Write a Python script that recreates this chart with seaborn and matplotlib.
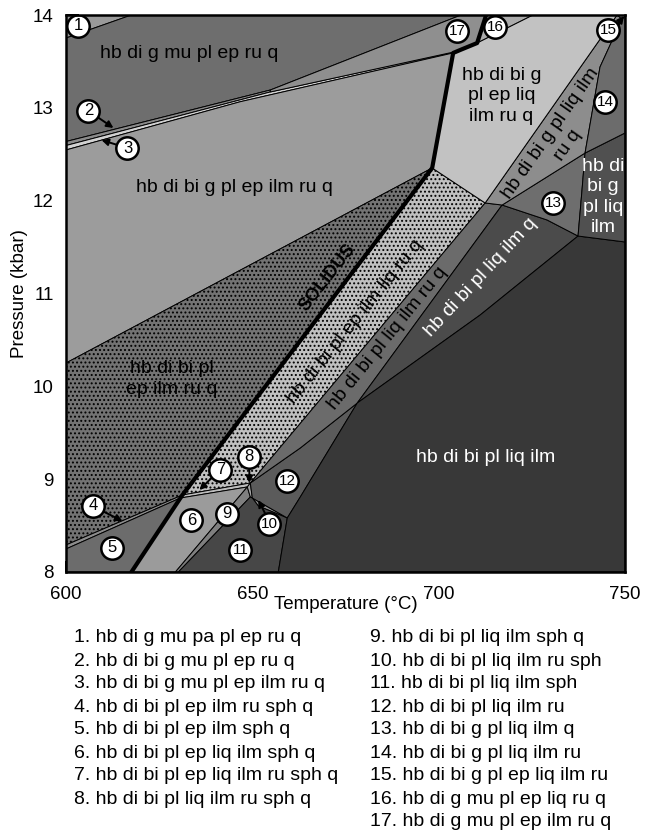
import matplotlib
matplotlib.use("Agg")
import matplotlib.pyplot as plt
import seaborn as sns
import pandas as pd
from matplotlib.ticker import MultipleLocator

sns.set_theme(style="ticks")
plt.rcParams['font.family'] = ['Liberation Sans', 'DejaVu Sans']
plt.rcParams['hatch.linewidth'] = 0.9
plt.rcParams['text.color'] = 'black'
plt.rcParams['axes.labelcolor'] = 'black'

# ---------------- data: nodes of the phase diagram (T in °C, P in kbar) ----------------
A1 = (600.0, 13.752); A2 = (617.56, 14.0)
LA0 = (600.0, 12.637); N270A = (654.83, 13.192); N270B = (654.83, 13.171)
LB0 = (600.0, 12.594); LB_END = (705.23, 13.612)
LC0 = (600.0, 12.546); LC_MID = (646.78, 13.066)
S_53 = (703.89, 13.591); S_50 = (705.77, 13.623); S_43 = (710.32, 13.698); S_TOP = (712.74, 14.0)
T17 = (706.03, 14.0); T16 = (725.34, 14.0)
S_KINK = (698.26, 12.352); S1 = (631.23, 8.829); S2 = (630.70, 8.797); S_BOT = (617.56, 8.0)
D1_LEFT = (600.0, 10.251); B4A = (600.0, 8.291); B4B = (600.0, 8.248)
GH_BOT = (712.47, 11.975); GH_TOP = (747.86, 14.0); R_TOP2 = (717.03, 11.953)
N15 = (749.20, 13.957); N14R = (750.0, 13.989); N14A = (743.30, 13.440); N14B = (739.28, 12.513)
KR = (750.0, 12.729); N13C = (738.47, 12.115); N13D = (737.40, 11.619); N13E = (729.09, 11.792)
KB = (750.0, 11.555); X2A = (711.13, 10.768); CX = (678.15, 9.820)
X1B = (662.87, 8.808); N518 = (659.38, 8.582); N278 = (656.97, 8.0)
X2B = (662.87, 9.336); J1 = (649.46, 8.959); J2 = (650.00, 8.797)
N247 = (648.66, 8.916); N175 = (629.36, 8.0); N178 = (630.16, 8.0)
N250 = (649.46, 8.808); N10 = (651.61, 8.711)
C_TL = (600.0, 14.0); C_TR = (750.0, 14.0); C_BL = (600.0, 8.0); C_BR = (750.0, 8.0)

SOLIDUS = [S_BOT, S2, S1, S_KINK, S_53, S_50, S_43, S_TOP]

# fields: (vertices, face colour, hatch)
FIELDS = [
    ([C_TL, A2, A1], '#9a9a9a', None),                                   # 1
    ([A2, T17, N270A, LA0, A1], '#6e6e6e', None),                        # hb di g mu pl ep ru q
    ([LA0, N270A, N270B, LB0], '#8a8a8a', None),                         # 2
    ([LB0, N270B, LB_END, S_53, LC_MID, LC0], '#d2d2d2', None),          # 3
    ([N270A, T17, S_TOP, S_43, S_50, LB_END, N270B], '#8f8f8f', None),   # 17
    ([S_TOP, T16, S_43], '#ababab', None),                               # 16
    ([LC0, LC_MID, S_53, S_KINK, D1_LEFT], '#9c9c9c', None),             # hb di bi g pl ep ilm ru q
    ([D1_LEFT, S_KINK, S1, B4A], '#737373', '....'),                     # hb di bi pl ep ilm ru q
    ([B4A, S1, S2, B4B], '#8c8c8c', None),                               # 4
    ([B4B, S2, S_BOT, C_BL], '#6c6c6c', None),                           # 5
    ([S1, S_KINK, GH_BOT, J1], '#c0c0c0', '....'),                       # hb di bi pl ep liq ilm ru q
    ([S1, J1, N247, S2], '#bdbdbd', None),                               # 7
    ([S2, N247, N175, S_BOT], '#9b9b9b', None),                          # 6
    ([N175, N247, N250, N178], '#7f7f7f', None),                         # 9
    ([N247, J1, J2, N250], '#a4a4a4', None),                             # 8
    ([J2, N518, N10], '#8e8e8e', None),                                  # 10
    ([N178, N250, J2, N10, N518, N278], '#474747', None),                # 11
    ([CX, X1B, N518, J2, J1, X2B], '#5b5b5b', None),                     # 12
    ([GH_BOT, R_TOP2, CX, X2B, J1], '#6b6b6b', None),                    # hb di bi pl liq ilm ru q
    ([R_TOP2, N13E, N13D, X2A, CX], '#4b4b4b', None),                    # hb di bi pl liq ilm q
    ([N13D, KB, C_BR, N278, N518, X1B, CX, X2A], '#383838', None),       # hb di bi pl liq ilm
    ([R_TOP2, N14B, N13C, N13D, N13E], '#6e6e6e', None),                 # 13
    ([N14B, KR, KB, N13D, N13C], '#505050', None),                       # hb di bi g pl liq ilm
    ([GH_BOT, GH_TOP, N15, N14A, N14B, R_TOP2], '#8d8d8d', None),        # hb di bi g pl liq ilm ru q
    ([N15, N14R, KR, N14B, N14A], '#6c6c6c', None),                      # 14
    ([GH_TOP, C_TR, N14R, N15], '#b0b0b0', None),                        # 15
    ([S_KINK, S_53, S_50, S_43, T16, GH_TOP, GH_BOT], '#c2c2c2', None),  # hb di bi g pl ep liq ilm ru q
]

# field names written inside the diagram
LABEL_TEXT = ['hb di g mu pl ep ru q', 'hb di bi g pl ep ilm ru q', 'hb di bi pl\nep ilm ru q',
              'hb di bi g\npl ep liq\nilm ru q', 'hb di bi g pl liq ilm\nru q', 'hb di\nbi g\npl liq\nilm',
              'hb di bi pl liq ilm q', 'hb di bi pl liq ilm', 'SOLIDUS',
              'hb di bi pl ep ilm liq ru q', 'hb di bi pl liq ilm ru q']
LABEL_T = [633.1, 645.2, 628.3, 716.8, 732.4, 744.1, 711.2, 712.5, 670.1, 677.6, 686.2]
LABEL_P = [13.59, 12.14, 10.08, 13.13, 12.66, 12.04, 11.17, 9.23, 11.17, 10.70, 10.52]
LABEL_ROT = [0, 0, 0, 0, 55, 0, 47, 0, 52, 51, 51]
LABEL_COLOR = ['black', 'black', 'black', 'black', 'black', 'white', 'white', 'white',
               'black', 'black', 'black']

# numbered small fields
NUM_ID = list(range(1, 18))
NUM_T = [603.35, 606.03, 616.49, 607.37, 612.47, 633.65, 641.42, 649.2, 643.3,
         654.56, 646.78, 659.38, 730.7, 744.64, 745.44, 715.15, 704.96]
NUM_P = [13.882, 12.966, 12.567, 8.711, 8.259, 8.56, 9.099, 9.239, 8.625,
         8.517, 8.237, 8.98, 11.975, 13.063, 13.838, 13.871, 13.828]

# arrows from numbered circles to their small fields
ARROW_FROM_T = [608.45, 613.81, 610.32, 639.28, 649.2, 653.49, 747.86]
ARROW_FROM_P = [12.901, 12.600, 8.646, 9.023, 9.12, 8.625, 13.892]
ARROW_TO_T = [612.73, 609.52, 615.15, 635.79, 649.2, 651.61, 749.74]
ARROW_TO_P = [12.783, 12.653, 8.549, 8.883, 8.959, 8.775, 13.989]

LEGEND = ['1. hb di g mu pa pl ep ru q', '2. hb di bi g mu pl ep ru q',
          '3. hb di bi g mu pl ep ilm ru q', '4. hb di bi pl ep ilm ru sph q',
          '5. hb di bi pl ep ilm sph q', '6. hb di bi pl ep liq ilm sph q',
          '7. hb di bi pl ep liq ilm ru sph q', '8. hb di bi pl liq ilm ru sph q',
          '9. hb di bi pl liq ilm sph q', '10. hb di bi pl liq ilm ru sph',
          '11. hb di bi pl liq ilm sph', '12. hb di bi pl liq ilm ru',
          '13. hb di bi g pl liq ilm q', '14. hb di bi g pl liq ilm ru',
          '15. hb di bi g pl ep liq ilm ru', '16. hb di g mu pl ep liq ru q',
          '17. hb di g mu pl ep ilm ru q']

# ---------------- drawing ----------------
W, H = 647, 831
fig = plt.figure(figsize=(W / 100, H / 100), dpi=100)
ax = fig.add_axes([66 / W, 1 - 572 / H, 559 / W, 557 / H])

for verts, col, hatch in FIELDS:
    ax.fill([v[0] for v in verts], [v[1] for v in verts], facecolor=col,
            edgecolor='black', linewidth=0.7, hatch=hatch, zorder=1)

sol = pd.DataFrame({'T': [v[0] for v in SOLIDUS], 'P': [v[1] for v in SOLIDUS]})
sns.lineplot(data=sol, x='T', y='P', sort=False, color='black', linewidth=3.0,
             ax=ax, zorder=3, estimator=None)

for txt, t, p, r, c in zip(LABEL_TEXT, LABEL_T, LABEL_P, LABEL_ROT, LABEL_COLOR):
    bold = txt == 'SOLIDUS'
    ax.text(t, p, txt, rotation=r, rotation_mode='anchor', ha='center', va='center',
            color=c, fontsize=13 if bold else 14, fontweight='bold' if bold else 'normal',
            linespacing=1.25, zorder=4)

for ft, fp, tt, tp in zip(ARROW_FROM_T, ARROW_FROM_P, ARROW_TO_T, ARROW_TO_P):
    ax.annotate('', xy=(tt, tp), xytext=(ft, fp),
                arrowprops=dict(arrowstyle='-|>', color='black', lw=1.4,
                                mutation_scale=10, shrinkA=0, shrinkB=0), zorder=5)

nums = pd.DataFrame({'T': NUM_T, 'P': NUM_P, 'id': NUM_ID})
sns.scatterplot(data=nums, x='T', y='P', s=260, color='white', edgecolor='black',
                linewidth=1.8, ax=ax, zorder=6, legend=False)
for i, t, p in zip(NUM_ID, NUM_T, NUM_P):
    ax.text(t, p, str(i), ha='center', va='center', fontsize=12 if i < 10 else 11,
            color='black', fontweight='medium', zorder=7)

ax.set_xlim(600, 750)
ax.set_ylim(8, 14)
ax.xaxis.set_major_locator(MultipleLocator(50))
ax.xaxis.set_minor_locator(MultipleLocator(10))
ax.yaxis.set_major_locator(MultipleLocator(1))
ax.tick_params(axis='both', which='both', direction='in', top=False, right=False,
               colors='black', labelsize=13.5, width=1.4)
ax.tick_params(axis='x', which='major', length=8, pad=10)
ax.tick_params(axis='x', which='minor', length=4)
ax.tick_params(axis='y', which='major', length=9, pad=9)
for s in ax.spines.values():
    s.set_linewidth(1.8)
    s.set_color('black')
    s.set_zorder(8)
ax.set_xlabel('Temperature (°C)', fontsize=13.5, labelpad=-5, color='black')
ax.set_ylabel('Pressure (kbar)', fontsize=13.5, labelpad=3, color='black')

for i, txt in enumerate(LEGEND):
    col = 0 if i < 8 else 1
    row = i if i < 8 else i - 8
    fig.text((74 if col == 0 else 370) / W, 1 - (638 + 23 * row) / H, txt,
             ha='left', va='center', fontsize=14, color='black')

fig.savefig('out.png', dpi=100)
